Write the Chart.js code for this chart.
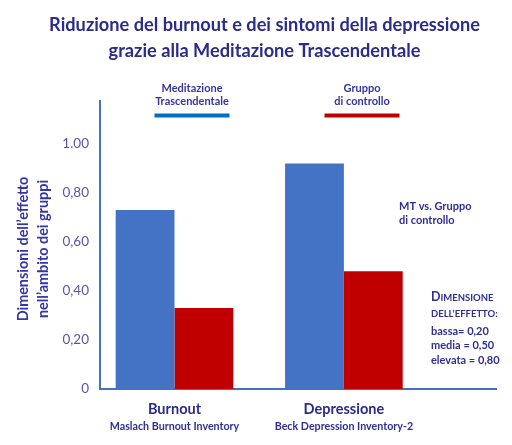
<!DOCTYPE html>
<html>
<head>
<meta charset="utf-8">
<script src="https://cdn.jsdelivr.net/npm/chart.js@4"></script>
<style>
html,body{margin:0;padding:0;background:#fff;}
canvas{display:block;}
</style>
</head>
<body>
<canvas id="c" width="512" height="445"></canvas>
<script>
const titleLines = ['Riduzione del burnout e dei sintomi della depressione', 'grazie alla Meditazione Trascendentale'];
const categories = ['Burnout', 'Depressione'];
const subLabels = ['Maslach Burnout Inventory', 'Beck Depression Inventory-2'];
const seriesNames = [['Meditazione', 'Trascendentale'], ['Gruppo', 'di controllo']];
const mtValues = [0.73, 0.92];
const controlValues = [0.33, 0.48];
const tickValues = [0, 0.2, 0.4, 0.6, 0.8, 1.0];
const tickLabels = ['0', '0,20', '0,40', '0,60', '0,80', '1.00'];
const yTitleLines = ['Dimensioni dell\u2019effetto', 'nell\u2019ambito dei gruppi'];
const noteLines = ['MT vs. Gruppo', 'di controllo'];
const scaleLines = ['bassa= 0,20', 'media = 0,50', 'elevata = 0,80'];

const BLUE = '#4472C4';
const RED = '#C00000';
const FONT = 'Lato, "Open Sans", sans-serif';

const xPositions = categories.map((c, i) => i + 1);

const decor = {
  id: 'decor',
  afterDraw(chart) {
    const ctx = chart.ctx;
    const xs = chart.scales.x;
    ctx.save();
    ctx.textAlign = 'center';
    ctx.textBaseline = 'middle';
    // title
    ctx.fillStyle = '#2b2b8c';
    ctx.font = 'bold 18.2px ' + FONT;
    ctx.fillText(titleLines[0], 264.5, 25);
    ctx.fillText(titleLines[1], 264.5, 51);
    // legend
    const legCenters = [192, 362];
    const legColors = ['#0070C0', RED];
    ctx.font = 'bold 11px ' + FONT;
    seriesNames.forEach((lines, i) => {
      ctx.fillStyle = '#3535a0';
      ctx.fillText(lines[0], legCenters[i], 88);
      ctx.fillText(lines[1], legCenters[i], 101.5);
      ctx.fillStyle = legColors[i];
      ctx.fillRect(legCenters[i] - 37.5, 113.5, 75, 4);
    });
    // y title
    ctx.save();
    ctx.translate(33, 249);
    ctx.rotate(-Math.PI / 2);
    ctx.fillStyle = '#3535a8';
    ctx.font = 'bold 14.4px ' + FONT;
    ctx.fillText(yTitleLines[0], 0, -10);
    ctx.fillText(yTitleLines[1], 0, 10);
    ctx.restore();
    // sub labels
    ctx.fillStyle = '#2f2f96';
    ctx.font = 'bold 10.7px ' + FONT;
    subLabels.forEach((s, i) => {
      ctx.fillText(s, xs.getPixelForValue(xPositions[i]), 426.5);
    });
    // notes
    ctx.textAlign = 'left';
    ctx.font = 'bold 11px ' + FONT;
    ctx.fillText(noteLines[0], 399, 206.5);
    ctx.fillText(noteLines[1], 399, 220.5);
    // small caps heading
    const nx = 431;
    let x = nx;
    ctx.font = 'bold 12.5px ' + FONT;
    ctx.textBaseline = 'alphabetic';
    ctx.fillText('D', x, 301);
    x += ctx.measureText('D').width;
    ctx.font = 'bold 9.5px ' + FONT;
    ctx.fillText('IMENSIONE', x, 301);
    ctx.fillText('DELL\u2019EFFETTO:', nx, 317);
    ctx.textBaseline = 'middle';
    ctx.font = 'bold 11px ' + FONT;
    scaleLines.forEach((s, i) => ctx.fillText(s, nx, 331.5 + i * 14.3));
    ctx.restore();
  }
};

new Chart(document.getElementById('c'), {
  type: 'bar',
  data: {
    datasets: [
      { label: seriesNames[0].join(' '), data: mtValues.map((v, i) => ({ x: xPositions[i], y: v })), backgroundColor: BLUE, borderWidth: 0 },
      { label: seriesNames[1].join(' '), data: controlValues.map((v, i) => ({ x: xPositions[i], y: v })), backgroundColor: RED, borderWidth: 0 }
    ]
  },
  options: {
    responsive: false,
    animation: false,
    devicePixelRatio: 1,
    categoryPercentage: 0.6945,
    barPercentage: 1,
    layout: { padding: { left: 0, right: 16, top: 101, bottom: 0 } },
    plugins: { legend: { display: false }, tooltip: { enabled: false }, title: { display: false } },
    scales: {
      x: {
        type: 'linear',
        offset: false,
        min: 0.5602,
        max: 2.898,
        grid: { display: false, drawTicks: false, offset: false },
        border: { display: true, color: BLUE, width: 2 },
        afterBuildTicks(s) { s.ticks = xPositions.map(v => ({ value: v })); },
        afterFit(s) { s.height = 56; },
        ticks: {
          padding: 12,
          color: '#2b2b8c',
          font: { family: FONT, size: 14.5, weight: 'bold' },
          callback: (v) => categories[xPositions.indexOf(v)]
        }
      },
      y: {
        min: 0,
        max: 1.175,
        grid: { display: false, drawTicks: false },
        border: { display: true, color: BLUE, width: 2 },
        afterBuildTicks(s) { s.ticks = tickValues.map(v => ({ value: v })); },
        afterFit(s) { s.width = 100; },
        ticks: {
          padding: 11,
          color: '#5656a8',
          font: { family: FONT, size: 13.5 },
          callback: (v) => tickLabels[tickValues.indexOf(v)]
        }
      }
    }
  },
  plugins: [decor]
});
</script>
</body>
</html>
